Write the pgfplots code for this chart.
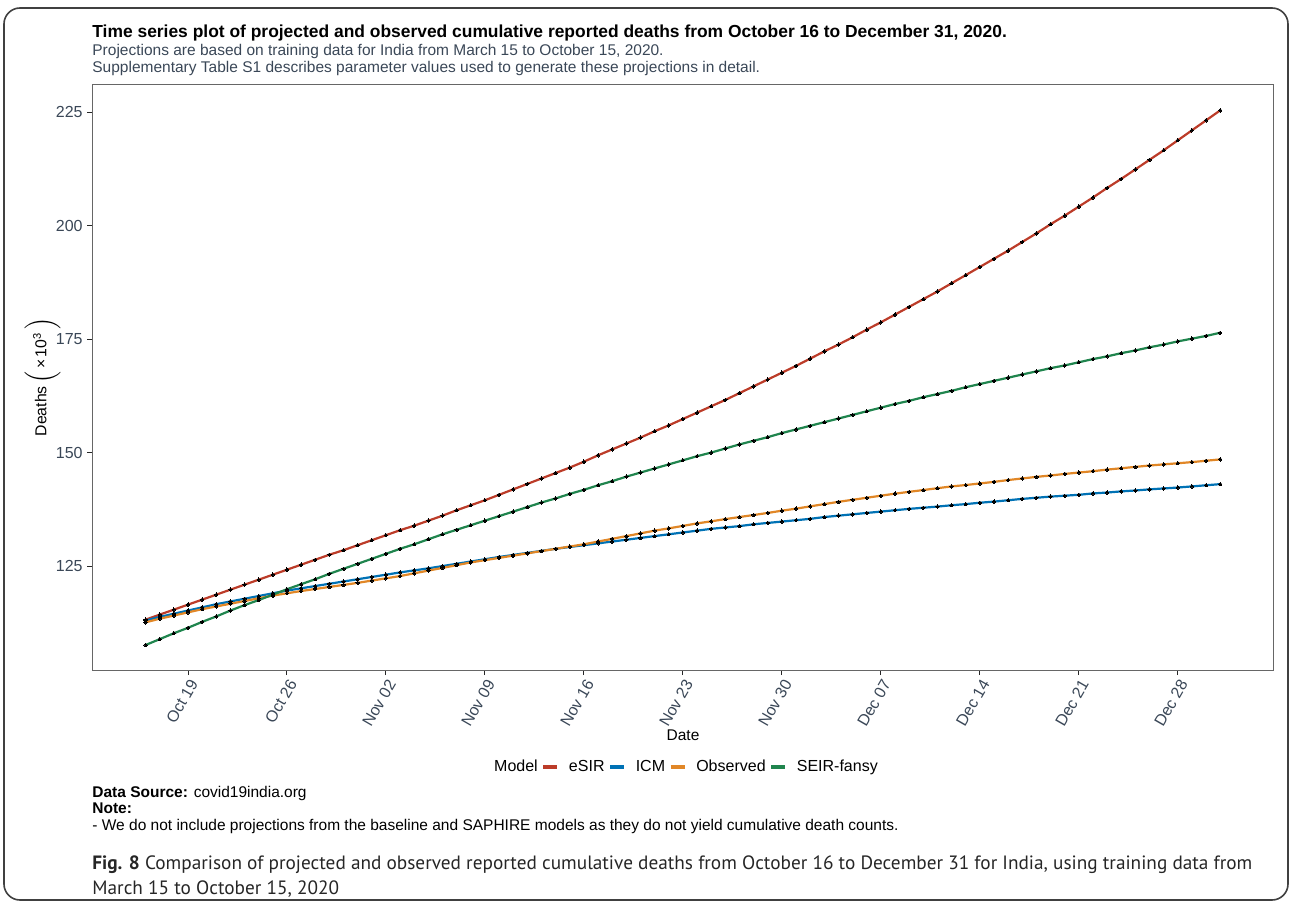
\documentclass[border=0pt]{standalone}
\usepackage{fontspec}
\setmainfont{Liberation Sans}
\newfontfamily\capfont{PT Sans}
\usepackage{graphicx}
\usepackage{pgfplots}
\usepackage{pgfplotstable}
\pgfplotsset{compat=1.18}
\definecolor{esir}{HTML}{BC3C29}
\definecolor{icm}{HTML}{0072B5}
\definecolor{obs}{HTML}{E18727}
\definecolor{seir}{HTML}{20854E}
\definecolor{slate}{HTML}{3A4757}
\newcommand\fs[1]{\fontsize{#1}{#1}\selectfont}

\pgfplotstableread{
d esir icm obs seir
0 113.2 113.0 112.6 107.6
1 114.3 113.8 113.4 108.9
2 115.4 114.5 114.1 110.2
3 116.5 115.2 114.8 111.4
4 117.6 115.9 115.5 112.7
5 118.7 116.6 116.1 113.9
6 119.8 117.2 116.7 115.2
7 120.9 117.8 117.3 116.4
8 122.0 118.4 117.9 117.5
9 123.1 119.0 118.5 118.7
10 124.2 119.6 119.0 119.9
11 125.3 120.1 119.5 121.0
12 126.4 120.6 119.95 122.1
13 127.5 121.1 120.4 123.3
14 128.5 121.6 120.85 124.4
15 129.6 122.1 121.3 125.5
16 130.7 122.6 121.8 126.6
17 131.8 123.1 122.3 127.7
18 132.9 123.6 122.8 128.8
19 133.9 124.05 123.4 129.8
20 135.0 124.5 124.0 130.9
21 136.1 125.0 124.6 132.0
22 137.3 125.5 125.2 133.0
23 138.4 126.0 125.8 134.0
24 139.5 126.5 126.3 135.0
25 140.7 127.0 126.8 136.0
26 141.9 127.45 127.3 137.0
27 143.1 127.9 127.8 138.0
28 144.3 128.35 128.3 139.0
29 145.5 128.8 128.8 139.9
30 146.7 129.2 129.3 140.9
31 148.0 129.6 129.8 141.8
32 149.4 130.0 130.4 142.8
33 150.7 130.4 131.0 143.7
34 152.0 130.8 131.6 144.7
35 153.3 131.2 132.2 145.6
36 154.7 131.6 132.8 146.5
37 156.0 132.0 133.3 147.4
38 157.4 132.4 133.85 148.3
39 158.8 132.8 134.4 149.2
40 160.2 133.2 134.85 150.0
41 161.6 133.5 135.35 150.9
42 163.1 133.8 135.8 151.8
43 164.6 134.2 136.25 152.6
44 166.1 134.5 136.7 153.4
45 167.6 134.8 137.2 154.3
46 169.1 135.1 137.65 155.1
47 170.7 135.4 138.15 155.9
48 172.3 135.8 138.65 156.7
49 173.8 136.1 139.15 157.5
50 175.4 136.4 139.6 158.3
51 177.1 136.7 140.05 159.1
52 178.7 137.0 140.5 159.9
53 180.4 137.3 140.95 160.7
54 182.1 137.6 141.35 161.4
55 183.8 137.85 141.75 162.2
56 185.5 138.1 142.15 162.9
57 187.3 138.4 142.55 163.6
58 189.1 138.65 142.85 164.4
59 190.9 138.95 143.2 165.1
60 192.7 139.2 143.55 165.8
61 194.5 139.5 143.95 166.5
62 196.4 139.8 144.3 167.2
63 198.3 140.05 144.65 167.9
64 200.3 140.3 144.95 168.6
65 202.2 140.5 145.3 169.2
66 204.2 140.7 145.6 169.9
67 206.2 141.0 145.9 170.6
68 208.3 141.2 146.25 171.2
69 210.3 141.45 146.55 171.9
70 212.4 141.65 146.85 172.5
71 214.5 141.9 147.15 173.2
72 216.6 142.1 147.4 173.8
73 218.8 142.3 147.65 174.5
74 221.0 142.55 147.9 175.1
75 223.2 142.8 148.2 175.7
76 225.4 143.05 148.5 176.4
}\datatable

\begin{document}
\begin{tikzpicture}
\begin{scope}[x=0.5pt,y=-0.5pt]
\path[use as bounding box] (0,0) rectangle (1292,904);
\draw[black!75, line width=0.8pt, rounded corners=8pt] (4,8) rectangle (1288,900);
\node[anchor=base west, inner sep=0pt, font=\bfseries\fs{8.71}] at (92,38) {Time series plot of projected and observed cumulative reported deaths from October 16 to December 31, 2020.};
\node[anchor=base west, inner sep=0pt, font=\fs{7.75}, text=slate] at (92,56) {Projections are based on training data for India from March 15 to October 15, 2020.};
\node[anchor=base west, inner sep=0pt, font=\fs{7.75}, text=slate] at (92,73) {Supplementary Table S1 describes parameter values used to generate these projections in detail.};
\node[anchor=center, inner sep=0pt, font=\fs{7.75}] at (683,735) {Date};
\node[anchor=center, inner sep=0pt, rotate=90, font=\fs{7.9}] at (42,377) {Deaths\,$\Big($\,×\,10\textsuperscript{3}\,$\Big)$};
\node[anchor=base west, inner sep=0pt, font=\fs{7.75}] at (92,797) {\textbf{Data Source:} covid19india.org};
\node[anchor=base west, inner sep=0pt, font=\fs{7.75}] at (92,813) {\textbf{Note:}};
\node[anchor=base west, inner sep=0pt, font=\fs{7.75}] at (92,830) {- We do not include projections from the baseline and SAPHIRE models as they do not yield cumulative death counts.};
\node[anchor=base west, inner sep=0pt, font=\capfont\fs{9.64}, text=black!85] at (92,869) {\textbf{Fig. 8} Comparison of projected and observed reported cumulative deaths from October 16 to December 31 for India, using training data from};
\node[anchor=base west, inner sep=0pt, font=\capfont\fs{9.64}, text=black!85] at (92,894) {March 15 to October 15, 2020};
\end{scope}
\begin{axis}[
  at={(46pt,-335pt)}, anchor=south west,
  width=591pt, height=293pt, scale only axis,
  xmin=-3.79, xmax=79.8, ymin=102.1, ymax=231.2,
  axis line style={black!60, line width=0.5pt},
  tick align=outside, major tick length=2.5pt,
  xtick pos=bottom, ytick pos=left,
  tick style={black!85, line width=0.5pt},
  xtick={3,10,17,24,31,38,45,52,59,66,73},
  xticklabels={Oct 19,Oct 26,Nov 02,Nov 09,Nov 16,Nov 23,Nov 30,Dec 07,Dec 14,Dec 21,Dec 28},
  ytick={125,150,175,200,225},
  /pgf/number format/assume math mode=true,
  tick label style={font=\fs{8}, text=slate},
  x tick label style={rotate=60, anchor=north east, inner sep=1pt},
  y tick label style={inner sep=2pt},
  legend style={at={(0.5,-0.1655)}, anchor=center, draw=none, fill=none, font=\fs{8}, inner sep=0pt,
    /tikz/every odd column/.append style={column sep=3pt}},
  legend columns=-1,
  legend image code/.code={\draw[#1, mark=none, line width=1.6pt] (0pt,0pt) -- (7pt,0pt);},
  every axis plot/.append style={line width=1.1pt, mark=*, mark size=0.85pt, mark options={black, fill=black, line width=0pt}},
]
\addlegendimage{empty legend}
\addlegendentry{Model}
\addplot[color=esir] table[x=d,y=esir]{\datatable};
\addlegendentry{eSIR}
\addplot[color=icm] table[x=d,y=icm]{\datatable};
\addlegendentry{ICM}
\addplot[color=obs] table[x=d,y=obs]{\datatable};
\addlegendentry{Observed}
\addplot[color=seir] table[x=d,y=seir]{\datatable};
\addlegendentry{SEIR-fansy}
\end{axis}
\end{tikzpicture}
\end{document}
